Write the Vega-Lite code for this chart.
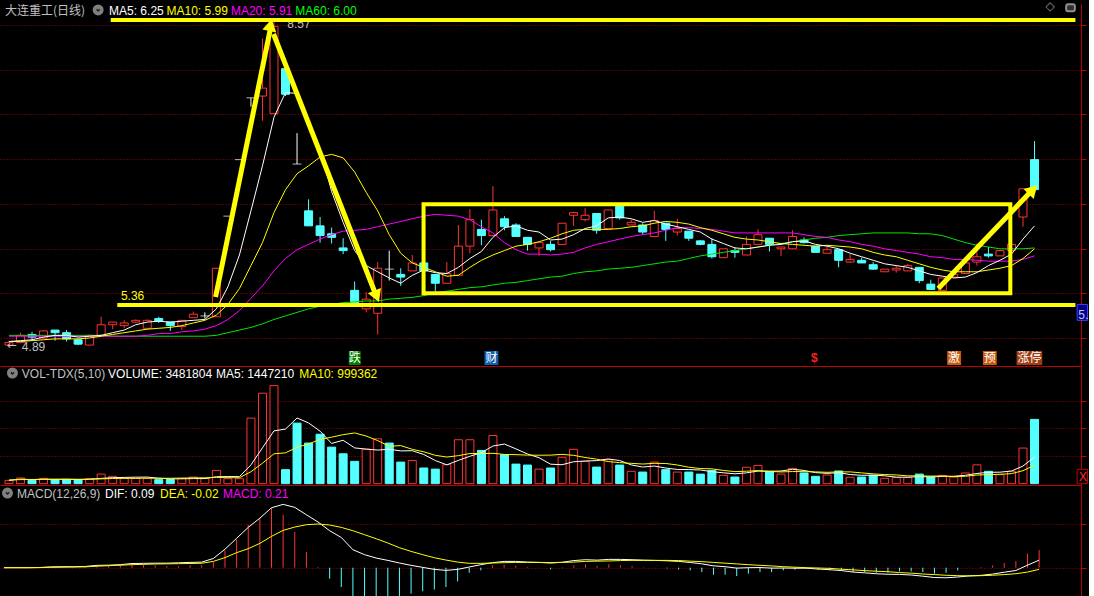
{
"$schema":"https://vega.github.io/schema/vega-lite/v6.json",
"background":"#000000",
"padding":0,
"spacing":0,
"config":{"view":{"stroke":null},"axisX":{"domainColor":"#c00000","ticks":false,"labels":false,"grid":false,"minExtent":0},"axisY":{"minExtent":0}},
"datasets":{"k":[
{"i":0,"o":4.9,"h":4.95,"l":4.89,"c":4.93,"up":true,"v":180000,"m5":4.94,"m10":4.94,"m20":5.0,"m60":5.01,"vm5":180000,"vm10":200000,"dif":0,"dea":0,"m":0.004},
{"i":1,"o":4.93,"h":5.04,"l":4.92,"c":5.01,"up":true,"v":310000,"m5":4.95,"m10":4.94,"m20":5.0,"m60":5.01,"vm5":250000,"vm10":220000,"dif":0,"dea":0,"m":0.004},
{"i":2,"o":5.02,"h":5.05,"l":4.95,"c":4.99,"up":false,"v":180000,"m5":4.96,"m10":4.95,"m20":5.0,"m60":5.01,"vm5":220000,"vm10":230000,"dif":0,"dea":0,"m":0.004},
{"i":3,"o":4.98,"h":5.07,"l":4.97,"c":5.06,"up":true,"v":290000,"m5":4.99,"m10":4.96,"m20":5.0,"m60":5.01,"vm5":240000,"vm10":240000,"dif":0.002,"dea":0.001,"m":0.004},
{"i":4,"o":5.07,"h":5.07,"l":4.95,"c":5.04,"up":false,"v":220000,"m5":5.01,"m10":4.97,"m20":5.0,"m60":5.01,"vm5":236000,"vm10":240000,"dif":0.01,"dea":0.004,"m":0.008},
{"i":5,"o":5.04,"h":5.07,"l":4.94,"c":4.97,"up":false,"v":220000,"m5":5.01,"m10":4.97,"m20":5.0,"m60":5.01,"vm5":244000,"vm10":240000,"dif":0.012,"dea":0.006,"m":0.008},
{"i":6,"o":4.96,"h":4.97,"l":4.9,"c":4.91,"up":false,"v":220000,"m5":4.99,"m10":4.97,"m20":5.0,"m60":5.01,"vm5":226000,"vm10":240000,"dif":0.012,"dea":0.008,"m":0.008},
{"i":7,"o":4.9,"h":5.02,"l":4.9,"c":5.01,"up":true,"v":270000,"m5":5.0,"m10":4.98,"m20":5.0,"m60":5.01,"vm5":244000,"vm10":240000,"dif":0.015,"dea":0.01,"m":0.012},
{"i":8,"o":5.01,"h":5.22,"l":5.01,"c":5.13,"up":true,"v":520000,"m5":5.01,"m10":5.0,"m20":5.0,"m60":5.01,"vm5":290000,"vm10":260000,"dif":0.028,"dea":0.018,"m":0.012},
{"i":9,"o":5.13,"h":5.16,"l":5.08,"c":5.16,"up":true,"v":400000,"m5":5.04,"m10":5.02,"m20":5.0,"m60":5.0,"vm5":326000,"vm10":281000,"dif":0.03,"dea":0.024,"m":0.028},
{"i":10,"o":5.12,"h":5.18,"l":5.09,"c":5.15,"up":true,"v":290000,"m5":5.07,"m10":5.04,"m20":5.0,"m60":5.0,"vm5":340000,"vm10":292000,"dif":0.036,"dea":0.03,"m":0.028},
{"i":11,"o":5.16,"h":5.19,"l":5.15,"c":5.18,"up":true,"v":290000,"m5":5.13,"m10":5.06,"m20":5.0,"m60":5.0,"vm5":354000,"vm10":290000,"dif":0.05,"dea":0.036,"m":0.04},
{"i":12,"o":5.09,"h":5.19,"l":5.08,"c":5.18,"up":true,"v":290000,"m5":5.16,"m10":5.08,"m20":5.01,"m60":5.0,"vm5":358000,"vm10":301000,"dif":0.052,"dea":0.04,"m":0.04},
{"i":13,"o":5.2,"h":5.22,"l":5.15,"c":5.17,"up":false,"v":220000,"m5":5.17,"m10":5.09,"m20":5.03,"m60":5.0,"vm5":298000,"vm10":294000,"dif":0.054,"dea":0.044,"m":0.028},
{"i":14,"o":5.16,"h":5.16,"l":5.06,"c":5.12,"up":false,"v":230000,"m5":5.16,"m10":5.1,"m20":5.03,"m60":5.0,"vm5":264000,"vm10":295000,"dif":0.054,"dea":0.046,"m":0.02},
{"i":15,"o":5.11,"h":5.18,"l":5.07,"c":5.18,"up":true,"v":290000,"m5":5.17,"m10":5.12,"m20":5.05,"m60":5.0,"vm5":264000,"vm10":302000,"dif":0.058,"dea":0.048,"m":0.02},
{"i":16,"o":5.21,"h":5.28,"l":5.21,"c":5.25,"up":true,"v":360000,"m5":5.18,"m10":5.15,"m20":5.06,"m60":5.0,"vm5":278000,"vm10":316000,"dif":0.063,"dea":0.05,"m":0.028},
{"i":17,"o":5.23,"h":5.27,"l":5.2,"c":5.23,"up":true,"v":290000,"m5":5.19,"m10":5.18,"m20":5.08,"m60":5.0,"vm5":278000,"vm10":318000,"dif":0.066,"dea":0.053,"m":0.028},
{"i":18,"o":5.22,"h":5.77,"l":5.22,"c":5.77,"up":true,"v":720000,"m5":5.31,"m10":5.24,"m20":5.12,"m60":5.01,"vm5":378000,"vm10":338000,"dif":0.11,"dea":0.075,"m":0.067},
{"i":19,"o":6.36,"h":6.36,"l":6.36,"c":6.36,"up":true,"v":270000,"m5":5.56,"m10":5.36,"m20":5.19,"m60":5.04,"vm5":386000,"vm10":325000,"dif":0.22,"dea":0.12,"m":0.206},
{"i":20,"o":7.0,"h":7.0,"l":7.0,"c":7.0,"up":true,"v":270000,"m5":5.92,"m10":5.54,"m20":5.29,"m60":5.07,"vm5":382000,"vm10":323000,"dif":0.35,"dea":0.179,"m":0.337},
{"i":21,"o":7.7,"h":7.7,"l":7.6,"c":7.7,"up":true,"v":3550000,"m5":6.42,"m10":5.8,"m20":5.43,"m60":5.1,"vm5":1020000,"vm10":649000,"dif":0.48,"dea":0.226,"m":0.512},
{"i":22,"o":7.72,"h":8.37,"l":7.44,"c":7.81,"up":true,"v":4900000,"m5":6.93,"m10":6.06,"m20":5.57,"m60":5.14,"vm5":1942000,"vm10":1110000,"dif":0.59,"dea":0.29,"m":0.591},
{"i":23,"o":7.52,"h":8.57,"l":7.52,"c":8.51,"up":true,"v":5310000,"m5":7.48,"m10":6.4,"m20":5.74,"m60":5.19,"vm5":2860000,"vm10":1619000,"dif":0.714,"dea":0.373,"m":0.71},
{"i":24,"o":8.03,"h":8.08,"l":7.72,"c":7.74,"up":false,"v":760000,"m5":7.76,"m10":6.66,"m20":5.88,"m60":5.23,"vm5":2958000,"vm10":1672000,"dif":0.754,"dea":0.444,"m":0.631},
{"i":25,"o":6.95,"h":7.3,"l":6.95,"c":6.95,"up":false,"v":3280000,"m5":7.75,"m10":6.84,"m20":5.98,"m60":5.27,"vm5":3560000,"vm10":1971000,"dif":0.718,"dea":0.484,"m":0.425},
{"i":26,"o":6.42,"h":6.55,"l":6.25,"c":6.25,"up":false,"v":2200000,"m5":7.45,"m10":6.93,"m20":6.04,"m60":5.31,"vm5":3290000,"vm10":2155000,"dif":0.63,"dea":0.512,"m":0.187},
{"i":27,"o":6.25,"h":6.35,"l":6.06,"c":6.14,"up":false,"v":2680000,"m5":7.12,"m10":7.03,"m20":6.1,"m60":5.34,"vm5":2846000,"vm10":2394000,"dif":0.544,"dea":0.52,"m":0.01},
{"i":28,"o":6.16,"h":6.23,"l":6.05,"c":6.12,"up":false,"v":1980000,"m5":6.64,"m10":7.06,"m20":6.15,"m60":5.36,"vm5":2180000,"vm10":2520000,"dif":0.44,"dea":0.508,"m":-0.131},
{"i":29,"o":6.0,"h":6.11,"l":5.93,"c":5.97,"up":false,"v":1620000,"m5":6.29,"m10":7.02,"m20":6.19,"m60":5.38,"vm5":2352000,"vm10":2655000,"dif":0.36,"dea":0.48,"m":-0.23},
{"i":30,"o":5.52,"h":5.62,"l":5.37,"c":5.37,"up":false,"v":1210000,"m5":5.97,"m10":6.86,"m20":6.2,"m60":5.39,"vm5":1938000,"vm10":2749000,"dif":0.214,"dea":0.44,"m":-0.45},
{"i":31,"o":5.31,"h":5.5,"l":5.27,"c":5.42,"up":true,"v":1870000,"m5":5.8,"m10":6.63,"m20":6.21,"m60":5.4,"vm5":1872000,"vm10":2581000,"dif":0.155,"dea":0.393,"m":-0.476},
{"i":32,"o":5.26,"h":5.84,"l":5.02,"c":5.77,"up":true,"v":2430000,"m5":5.73,"m10":6.42,"m20":6.24,"m60":5.4,"vm5":1822000,"vm10":2334000,"dif":0.115,"dea":0.345,"m":-0.46},
{"i":33,"o":5.76,"h":5.97,"l":5.63,"c":5.76,"up":false,"v":2200000,"m5":5.66,"m10":6.15,"m20":6.27,"m60":5.42,"vm5":1866000,"vm10":2023000,"dif":0.087,"dea":0.294,"m":-0.414},
{"i":34,"o":5.7,"h":5.77,"l":5.57,"c":5.67,"up":false,"v":1170000,"m5":5.6,"m10":5.94,"m20":6.3,"m60":5.43,"vm5":1776000,"vm10":2064000,"dif":0.056,"dea":0.238,"m":-0.364},
{"i":35,"o":5.74,"h":5.92,"l":5.74,"c":5.83,"up":true,"v":1260000,"m5":5.69,"m10":5.83,"m20":6.33,"m60":5.44,"vm5":1786000,"vm10":1862000,"dif":0.028,"dea":0.194,"m":-0.31},
{"i":36,"o":5.83,"h":5.84,"l":5.74,"c":5.74,"up":false,"v":850000,"m5":5.75,"m10":5.78,"m20":6.36,"m60":5.46,"vm5":1582000,"vm10":1727000,"dif":0.004,"dea":0.155,"m":-0.28},
{"i":37,"o":5.7,"h":5.7,"l":5.51,"c":5.6,"up":false,"v":790000,"m5":5.72,"m10":5.73,"m20":6.38,"m60":5.49,"vm5":1254000,"vm10":1538000,"dif":-0.02,"dea":0.119,"m":-0.26},
{"i":38,"o":5.6,"h":5.84,"l":5.6,"c":5.71,"up":true,"v":1030000,"m5":5.71,"m10":5.68,"m20":6.37,"m60":5.51,"vm5":1020000,"vm10":1443000,"dif":-0.032,"dea":0.091,"m":-0.23},
{"i":39,"o":5.69,"h":6.26,"l":5.69,"c":6.02,"up":true,"v":2380000,"m5":5.78,"m10":5.69,"m20":6.36,"m60":5.53,"vm5":1262000,"vm10":1519000,"dif":-0.02,"dea":0.067,"m":-0.163},
{"i":40,"o":6.02,"h":6.44,"l":5.94,"c":6.32,"up":true,"v":2380000,"m5":5.88,"m10":5.78,"m20":6.32,"m60":5.55,"vm5":1486000,"vm10":1636000,"dif":0.008,"dea":0.052,"m":-0.06},
{"i":41,"o":6.21,"h":6.32,"l":6.03,"c":6.14,"up":false,"v":1800000,"m5":5.96,"m10":5.86,"m20":6.24,"m60":5.56,"vm5":1676000,"vm10":1629000,"dif":0.036,"dea":0.052,"m":-0.032},
{"i":42,"o":6.14,"h":6.7,"l":6.14,"c":6.43,"up":true,"v":2610000,"m5":6.12,"m10":5.92,"m20":6.17,"m60":5.58,"vm5":2040000,"vm10":1647000,"dif":0.06,"dea":0.056,"m":0.028},
{"i":43,"o":6.33,"h":6.36,"l":6.2,"c":6.24,"up":false,"v":1570000,"m5":6.23,"m10":5.97,"m20":6.06,"m60":5.6,"vm5":2148000,"vm10":1584000,"dif":0.075,"dea":0.06,"m":0.036},
{"i":44,"o":6.26,"h":6.28,"l":6.13,"c":6.13,"up":false,"v":1060000,"m5":6.25,"m10":6.02,"m20":5.98,"m60":5.61,"vm5":1884000,"vm10":1573000,"dif":0.075,"dea":0.063,"m":0.024},
{"i":45,"o":6.12,"h":6.12,"l":5.97,"c":6.04,"up":false,"v":1010000,"m5":6.2,"m10":6.04,"m20":5.93,"m60":5.63,"vm5":1610000,"vm10":1548000,"dif":0.067,"dea":0.063,"m":0.01},
{"i":46,"o":6.0,"h":6.06,"l":5.91,"c":6.06,"up":true,"v":790000,"m5":6.18,"m10":6.07,"m20":5.93,"m60":5.65,"vm5":1408000,"vm10":1542000,"dif":0.063,"dea":0.063,"m":0.002},
{"i":47,"o":6.04,"h":6.08,"l":5.96,"c":5.98,"up":false,"v":850000,"m5":6.09,"m10":6.11,"m20":5.92,"m60":5.67,"vm5":1056000,"vm10":1548000,"dif":0.055,"dea":0.062,"m":-0.02},
{"i":48,"o":6.04,"h":6.28,"l":6.04,"c":6.28,"up":true,"v":1430000,"m5":6.1,"m10":6.16,"m20":5.93,"m60":5.68,"vm5":1028000,"vm10":1588000,"dif":0.065,"dea":0.063,"m":-0.005},
{"i":49,"o":6.37,"h":6.41,"l":6.25,"c":6.4,"up":true,"v":1860000,"m5":6.15,"m10":6.2,"m20":5.95,"m60":5.71,"vm5":1188000,"vm10":1536000,"dif":0.085,"dea":0.067,"m":0.028},
{"i":50,"o":6.32,"h":6.45,"l":6.3,"c":6.37,"up":true,"v":1210000,"m5":6.22,"m10":6.21,"m20":6.0,"m60":5.73,"vm5":1228000,"vm10":1419000,"dif":0.095,"dea":0.075,"m":0.04},
{"i":51,"o":6.39,"h":6.39,"l":6.16,"c":6.2,"up":false,"v":900000,"m5":6.25,"m10":6.21,"m20":6.04,"m60":5.74,"vm5":1250000,"vm10":1329000,"dif":0.09,"dea":0.078,"m":0.02},
{"i":52,"o":6.22,"h":6.43,"l":6.22,"c":6.43,"up":true,"v":1300000,"m5":6.34,"m10":6.21,"m20":6.07,"m60":5.76,"vm5":1340000,"vm10":1198000,"dif":0.099,"dea":0.08,"m":0.04},
{"i":53,"o":6.48,"h":6.48,"l":6.32,"c":6.34,"up":false,"v":1010000,"m5":6.35,"m10":6.22,"m20":6.1,"m60":5.77,"vm5":1256000,"vm10":1142000,"dif":0.099,"dea":0.085,"m":0.028},
{"i":54,"o":6.26,"h":6.32,"l":6.26,"c":6.29,"up":true,"v":670000,"m5":6.33,"m10":6.24,"m20":6.13,"m60":5.78,"vm5":1018000,"vm10":1103000,"dif":0.095,"dea":0.087,"m":0.02},
{"i":55,"o":6.26,"h":6.28,"l":6.15,"c":6.18,"up":false,"v":630000,"m5":6.29,"m10":6.25,"m20":6.15,"m60":5.8,"vm5":902000,"vm10":1065000,"dif":0.09,"dea":0.087,"m":0.005},
{"i":56,"o":6.13,"h":6.42,"l":6.13,"c":6.31,"up":true,"v":1170000,"m5":6.31,"m10":6.28,"m20":6.17,"m60":5.82,"vm5":956000,"vm10":1103000,"dif":0.087,"dea":0.087,"m":0.002},
{"i":57,"o":6.28,"h":6.28,"l":6.08,"c":6.21,"up":false,"v":760000,"m5":6.27,"m10":6.3,"m20":6.2,"m60":5.84,"vm5":848000,"vm10":1094000,"dif":0.082,"dea":0.087,"m":-0.008},
{"i":58,"o":6.18,"h":6.33,"l":6.14,"c":6.22,"up":true,"v":630000,"m5":6.24,"m10":6.29,"m20":6.23,"m60":5.85,"vm5":772000,"vm10":1014000,"dif":0.075,"dea":0.085,"m":-0.02},
{"i":59,"o":6.19,"h":6.19,"l":6.08,"c":6.11,"up":false,"v":630000,"m5":6.21,"m10":6.27,"m20":6.23,"m60":5.88,"vm5":764000,"vm10":891000,"dif":0.062,"dea":0.078,"m":-0.032},
{"i":60,"o":6.08,"h":6.09,"l":6.03,"c":6.04,"up":false,"v":520000,"m5":6.18,"m10":6.23,"m20":6.22,"m60":5.91,"vm5":742000,"vm10":822000,"dif":0.046,"dea":0.072,"m":-0.052},
{"i":61,"o":6.04,"h":6.11,"l":5.88,"c":5.9,"up":false,"v":720000,"m5":6.1,"m10":6.2,"m20":6.21,"m60":5.93,"vm5":652000,"vm10":804000,"dif":0.022,"dea":0.063,"m":-0.083},
{"i":62,"o":5.89,"h":5.99,"l":5.89,"c":5.99,"up":true,"v":450000,"m5":6.05,"m10":6.16,"m20":6.19,"m60":5.95,"vm5":590000,"vm10":719000,"dif":0.012,"dea":0.054,"m":-0.083},
{"i":63,"o":5.97,"h":6.01,"l":5.89,"c":5.95,"up":false,"v":360000,"m5":6.0,"m10":6.12,"m20":6.17,"m60":5.97,"vm5":536000,"vm10":654000,"dif":-0.005,"dea":0.045,"m":-0.1},
{"i":64,"o":5.92,"h":6.13,"l":5.92,"c":6.04,"up":true,"v":890000,"m5":5.99,"m10":6.1,"m20":6.17,"m60":5.99,"vm5":588000,"vm10":676000,"dif":0,"dea":0.036,"m":-0.071},
{"i":65,"o":6.04,"h":6.21,"l":6.04,"c":6.15,"up":true,"v":990000,"m5":6.01,"m10":6.09,"m20":6.17,"m60":6.01,"vm5":682000,"vm10":712000,"dif":0.002,"dea":0.028,"m":-0.052},
{"i":66,"o":6.11,"h":6.11,"l":5.96,"c":6.04,"up":false,"v":670000,"m5":6.03,"m10":6.07,"m20":6.17,"m60":6.03,"vm5":672000,"vm10":662000,"dif":-0.005,"dea":0.021,"m":-0.052},
{"i":67,"o":5.99,"h":6.01,"l":5.91,"c":6.01,"up":true,"v":520000,"m5":6.04,"m10":6.05,"m20":6.17,"m60":6.05,"vm5":686000,"vm10":638000,"dif":-0.004,"dea":0.012,"m":-0.032},
{"i":68,"o":5.99,"h":6.2,"l":5.99,"c":6.13,"up":true,"v":830000,"m5":6.07,"m10":6.04,"m20":6.17,"m60":6.07,"vm5":780000,"vm10":658000,"dif":-0.006,"dea":0.006,"m":-0.024},
{"i":69,"o":6.09,"h":6.12,"l":6.05,"c":6.06,"up":false,"v":580000,"m5":6.08,"m10":6.03,"m20":6.15,"m60":6.09,"vm5":718000,"vm10":653000,"dif":-0.006,"dea":0,"m":-0.012},
{"i":70,"o":6.02,"h":6.02,"l":5.95,"c":5.95,"up":false,"v":400000,"m5":6.04,"m10":6.02,"m20":6.13,"m60":6.11,"vm5":600000,"vm10":641000,"dif":-0.016,"dea":-0.004,"m":-0.024},
{"i":71,"o":5.94,"h":6.02,"l":5.94,"c":5.98,"up":true,"v":470000,"m5":6.02,"m10":6.03,"m20":6.12,"m60":6.12,"vm5":560000,"vm10":616000,"dif":-0.024,"dea":-0.008,"m":-0.032},
{"i":72,"o":5.98,"h":5.98,"l":5.78,"c":5.86,"up":false,"v":690000,"m5":5.99,"m10":6.02,"m20":6.09,"m60":6.14,"vm5":594000,"vm10":640000,"dif":-0.034,"dea":-0.018,"m":-0.032},
{"i":73,"o":5.84,"h":5.93,"l":5.83,"c":5.87,"up":true,"v":350000,"m5":5.94,"m10":6.01,"m20":6.07,"m60":6.15,"vm5":498000,"vm10":639000,"dif":-0.052,"dea":-0.026,"m":-0.052},
{"i":74,"o":5.86,"h":5.89,"l":5.83,"c":5.83,"up":false,"v":360000,"m5":5.9,"m10":5.99,"m20":6.04,"m60":6.16,"vm5":454000,"vm10":586000,"dif":-0.061,"dea":-0.035,"m":-0.052},
{"i":75,"o":5.81,"h":5.84,"l":5.75,"c":5.76,"up":false,"v":450000,"m5":5.86,"m10":5.95,"m20":6.02,"m60":6.17,"vm5":464000,"vm10":532000,"dif":-0.072,"dea":-0.042,"m":-0.06},
{"i":76,"o":5.73,"h":5.76,"l":5.73,"c":5.76,"up":true,"v":290000,"m5":5.82,"m10":5.92,"m20":5.99,"m60":6.17,"vm5":428000,"vm10":494000,"dif":-0.078,"dea":-0.048,"m":-0.06},
{"i":77,"o":5.75,"h":5.8,"l":5.72,"c":5.77,"up":true,"v":330000,"m5":5.8,"m10":5.9,"m20":5.97,"m60":6.17,"vm5":356000,"vm10":475000,"dif":-0.08,"dea":-0.058,"m":-0.044},
{"i":78,"o":5.74,"h":5.82,"l":5.74,"c":5.8,"up":true,"v":330000,"m5":5.78,"m10":5.86,"m20":5.95,"m60":6.17,"vm5":352000,"vm10":425000,"dif":-0.087,"dea":-0.065,"m":-0.044},
{"i":79,"o":5.78,"h":5.78,"l":5.6,"c":5.63,"up":false,"v":520000,"m5":5.74,"m10":5.82,"m20":5.93,"m60":6.16,"vm5":384000,"vm10":419000,"dif":-0.101,"dea":-0.075,"m":-0.052},
{"i":80,"o":5.59,"h":5.64,"l":5.53,"c":5.53,"up":false,"v":360000,"m5":5.7,"m10":5.78,"m20":5.9,"m60":6.16,"vm5":366000,"vm10":415000,"dif":-0.117,"dea":-0.082,"m":-0.071},
{"i":81,"o":5.52,"h":5.66,"l":5.52,"c":5.66,"up":true,"v":450000,"m5":5.68,"m10":5.75,"m20":5.89,"m60":6.14,"vm5":398000,"vm10":413000,"dif":-0.12,"dea":-0.09,"m":-0.06},
{"i":82,"o":5.67,"h":5.73,"l":5.67,"c":5.7,"up":true,"v":360000,"m5":5.66,"m10":5.73,"m20":5.87,"m60":6.1,"vm5":404000,"vm10":380000,"dif":-0.111,"dea":-0.095,"m":-0.032},
{"i":83,"o":5.71,"h":5.83,"l":5.71,"c":5.83,"up":true,"v":580000,"m5":5.67,"m10":5.73,"m20":5.87,"m60":6.06,"vm5":454000,"vm10":403000,"dif":-0.097,"dea":-0.098,"m":0.003},
{"i":84,"o":5.84,"h":6.05,"l":5.8,"c":5.9,"up":true,"v":1020000,"m5":5.72,"m10":5.73,"m20":5.86,"m60":6.03,"vm5":554000,"vm10":469000,"dif":-0.091,"dea":-0.095,"m":0.008},
{"i":85,"o":5.93,"h":6.01,"l":5.89,"c":5.91,"up":false,"v":670000,"m5":5.8,"m10":5.75,"m20":5.85,"m60":6.01,"vm5":616000,"vm10":491000,"dif":-0.076,"dea":-0.09,"m":0.028},
{"i":86,"o":5.91,"h":5.97,"l":5.91,"c":5.97,"up":true,"v":490000,"m5":5.86,"m10":5.77,"m20":5.85,"m60":5.99,"vm5":624000,"vm10":511000,"dif":-0.054,"dea":-0.082,"m":0.056},
{"i":87,"o":5.97,"h":6.04,"l":5.97,"c":6.04,"up":true,"v":670000,"m5":5.93,"m10":5.8,"m20":5.85,"m60":5.99,"vm5":686000,"vm10":545000,"dif":-0.033,"dea":-0.072,"m":0.079},
{"i":88,"o":6.35,"h":6.67,"l":6.24,"c":6.67,"up":true,"v":1930000,"m5":6.1,"m10":5.88,"m20":5.87,"m60":5.99,"vm5":956000,"vm10":705000,"dif":0.03,"dea":-0.052,"m":0.167},
{"i":89,"o":7.0,"h":7.21,"l":6.66,"c":6.66,"up":false,"v":3481804,"m5":6.25,"m10":5.99,"m20":5.91,"m60":6.0,"vm5":1447210,"vm10":999362,"dif":0.09,"dea":-0.02,"m":0.21}
]},
"vconcat":[
{"width":1081,"height":362,"data":{"name":"k"},"layer":[
{"mark":{"type":"rule","strokeWidth":1},"encoding":{
"x":{"field":"i","type":"quantitative","title":null,"scale":{"domain":[-0.344,92.6],"nice":false,"zero":false}},
"y":{"field":"l","type":"quantitative","title":null,"scale":{"domain":[4.66285,8.7625],"nice":false,"zero":false},"axis":{"orient":"right","values":[4.98,5.49,5.99,6.5,7.01,7.52,8.02,8.53],"grid":true,"gridColor":"#a00000","gridDash":[1,2],"domainColor":"#c00000","tickColor":"#c00000","tickSize":5,"labels":false,"title":null,"minExtent":0}},
"y2":{"field":"h"},
"color":{"condition":[{"test":"datum.c == datum.o","value":"#ffffff"},{"test":"datum.c > datum.o","value":"#ff3232"}],"value":"#54ffff"}}},
{"transform":[{"filter":"datum.c != datum.o"}],"mark":{"type":"bar","width":8,"strokeWidth":1},"encoding":{
"x":{"field":"i","type":"quantitative","title":null,"scale":{"domain":[-0.344,92.6],"nice":false,"zero":false}},
"y":{"field":"o","type":"quantitative","title":null,"scale":{"domain":[4.66285,8.7625],"nice":false,"zero":false}},
"y2":{"field":"c"},
"fill":{"condition":{"test":"datum.c > datum.o","value":"#000000"},"value":"#54ffff"},
"stroke":{"condition":{"test":"datum.c > datum.o","value":"#ff3232"},"value":"#54ffff"}}},
{"transform":[{"filter":"datum.c == datum.o"}],"mark":{"type":"tick","orient":"horizontal","size":9,"thickness":1,"color":"#ffffff"},"encoding":{
"x":{"field":"i","type":"quantitative","title":null,"scale":{"domain":[-0.344,92.6],"nice":false,"zero":false}},
"y":{"field":"c","type":"quantitative","title":null,"scale":{"domain":[4.66285,8.7625],"nice":false,"zero":false}}}},
{"mark":{"type":"line","color":"#00e600","strokeWidth":1},"encoding":{
"x":{"field":"i","type":"quantitative","title":null,"scale":{"domain":[-0.344,92.6],"nice":false,"zero":false}},
"y":{"field":"m60","type":"quantitative","title":null,"scale":{"domain":[4.66285,8.7625],"nice":false,"zero":false}}}},
{"mark":{"type":"line","color":"#ff00ff","strokeWidth":1},"encoding":{
"x":{"field":"i","type":"quantitative","title":null,"scale":{"domain":[-0.344,92.6],"nice":false,"zero":false}},
"y":{"field":"m20","type":"quantitative","title":null,"scale":{"domain":[4.66285,8.7625],"nice":false,"zero":false}}}},
{"mark":{"type":"line","color":"#ffff00","strokeWidth":1},"encoding":{
"x":{"field":"i","type":"quantitative","title":null,"scale":{"domain":[-0.344,92.6],"nice":false,"zero":false}},
"y":{"field":"m10","type":"quantitative","title":null,"scale":{"domain":[4.66285,8.7625],"nice":false,"zero":false}}}},
{"mark":{"type":"line","color":"#ffffff","strokeWidth":1},"encoding":{
"x":{"field":"i","type":"quantitative","title":null,"scale":{"domain":[-0.344,92.6],"nice":false,"zero":false}},
"y":{"field":"m5","type":"quantitative","title":null,"scale":{"domain":[4.66285,8.7625],"nice":false,"zero":false}}}},
{"data":{"values":[{}]},"mark":{"type":"text","text":"8.57","color":"#c0c0c0","font":"Liberation Sans","fontSize":12,"align":"left","baseline":"alphabetic"},"encoding":{"x":{"datum":24.16},"y":{"datum":8.4907}}},
{"data":{"values":[{}]},"mark":{"type":"rule","color":"#ffff00","strokeWidth":4},"encoding":{"x":{"datum":8.83},"x2":{"datum":92.55},"y":{"datum":8.58}}},
{"data":{"values":[{}]},"mark":{"type":"rule","color":"#ffff00","strokeWidth":4},"encoding":{"x":{"datum":9.4},"x2":{"datum":92.55},"y":{"datum":5.354}}},
{"data":{"values":[{}]},"mark":{"type":"rect","fill":null,"fillOpacity":0,"stroke":"#ffff00","strokeWidth":4},"encoding":{"x":{"datum":35.98},"x2":{"datum":86.9},"y":{"datum":5.486},"y2":{"datum":6.494}}},
{"data":{"values":[{}]},"mark":{"type":"rule","color":"#ffff00","strokeWidth":5},"encoding":{"x":{"datum":17.93},"y":{"datum":5.444},"x2":{"datum":22.7},"y2":{"datum":8.49}}},
{"data":{"values":[{}]},"mark":{"type":"rule","color":"#ffff00","strokeWidth":5},"encoding":{"x":{"datum":22.96},"y":{"datum":8.423},"x2":{"datum":31.81},"y2":{"datum":5.478}}},
{"data":{"values":[{}]},"mark":{"type":"rule","color":"#ffff00","strokeWidth":5},"encoding":{"x":{"datum":80.65},"y":{"datum":5.541},"x2":{"datum":88.73},"y2":{"datum":6.645}}},
{"data":{"values":[{}]},"mark":{"type":"point","shape":"triangle-up","filled":true,"color":"#ffff00","opacity":1,"size":200,"angle":11.6},"encoding":{"x":{"datum":22.7},"y":{"datum":8.525}}},
{"data":{"values":[{}]},"mark":{"type":"point","shape":"triangle-up","filled":true,"color":"#ffff00","opacity":1,"size":200,"angle":158.2},"encoding":{"x":{"datum":31.91},"y":{"datum":5.451}}},
{"data":{"values":[{}]},"mark":{"type":"point","shape":"triangle-up","filled":true,"color":"#ffff00","opacity":1,"size":200,"angle":44.1},"encoding":{"x":{"datum":88.86},"y":{"datum":6.661}}},
{"data":{"values":[{}]},"mark":{"type":"text","text":"大连重工(日线)","color":"#c0c0c0","font":"Noto Sans CJK SC","fontSize":12,"align":"left","baseline":"alphabetic"},"encoding":{"x":{"datum":-0.344},"y":{"datum":8.6434}}},
{"data":{"values":[{}]},"mark":{"type":"point","shape":"circle","filled":true,"color":"#808080","opacity":1,"size":121},"encoding":{"x":{"datum":7.74},"y":{"datum":8.695}}},
{"data":{"values":[{}]},"mark":{"type":"point","shape":"M-0.5,-0.2L0,0.3L0.5,-0.2","filled":false,"stroke":"#202020","strokeWidth":1.5,"opacity":1,"size":40},"encoding":{"x":{"datum":7.74},"y":{"datum":8.695}}},
{"data":{"values":[{}]},"mark":{"type":"text","text":"MA5: 6.25","color":"#ffffff","font":"Liberation Sans","fontSize":12,"align":"left","baseline":"alphabetic"},"encoding":{"x":{"datum":8.684},"y":{"datum":8.6434}}},
{"data":{"values":[{}]},"mark":{"type":"text","text":"MA10: 5.99","color":"#ffff00","font":"Liberation Sans","fontSize":12,"align":"left","baseline":"alphabetic"},"encoding":{"x":{"datum":13.67},"y":{"datum":8.6434}}},
{"data":{"values":[{}]},"mark":{"type":"text","text":"MA20: 5.91","color":"#ff00ff","font":"Liberation Sans","fontSize":12,"align":"left","baseline":"alphabetic"},"encoding":{"x":{"datum":19.26},"y":{"datum":8.6434}}},
{"data":{"values":[{}]},"mark":{"type":"text","text":"MA60: 6.00","color":"#00ff00","font":"Liberation Sans","fontSize":12,"align":"left","baseline":"alphabetic"},"encoding":{"x":{"datum":24.85},"y":{"datum":8.6434}}},
{"data":{"values":[{}]},"mark":{"type":"text","text":"5.36","color":"#ffff00","font":"Liberation Sans","fontSize":12,"align":"left","baseline":"alphabetic"},"encoding":{"x":{"datum":9.715},"y":{"datum":5.41}}},
{"data":{"values":[{}]},"mark":{"type":"text","text":"←","color":"#c0c0c0","font":"DejaVu Sans","fontSize":12,"align":"left","baseline":"alphabetic"},"encoding":{"x":{"datum":-0.17},"y":{"datum":4.85}}},
{"data":{"values":[{}]},"mark":{"type":"text","text":"4.89","color":"#c0c0c0","font":"Liberation Sans","fontSize":12,"align":"left","baseline":"alphabetic"},"encoding":{"x":{"datum":1.12},"y":{"datum":4.83}}},
{"data":{"values":[{}]},"mark":{"type":"rect","color":"#008000"},"encoding":{"x":{"datum":29.49},"x2":{"datum":30.52},"y":{"datum":4.6742},"y2":{"datum":4.8328}}},
{"data":{"values":[{}]},"mark":{"type":"text","text":"跌","color":"#ffffff","font":"Noto Sans CJK SC","fontSize":12,"align":"center","baseline":"middle"},"encoding":{"x":{"datum":30.0},"y":{"datum":4.7536}}},
{"data":{"values":[{}]},"mark":{"type":"rect","color":"#1060b0"},"encoding":{"x":{"datum":41.27},"x2":{"datum":42.47},"y":{"datum":4.6742},"y2":{"datum":4.8328}}},
{"data":{"values":[{}]},"mark":{"type":"text","text":"财","color":"#ffffff","font":"Noto Sans CJK SC","fontSize":12,"align":"center","baseline":"middle"},"encoding":{"x":{"datum":41.87},"y":{"datum":4.7536}}},
{"data":{"values":[{}]},"mark":{"type":"text","text":"$","color":"#ff2020","font":"Liberation Sans","fontSize":12,"fontWeight":"bold","align":"center","baseline":"middle"},"encoding":{"x":{"datum":69.9},"y":{"datum":4.7536}}},
{"data":{"values":[{}]},"mark":{"type":"rect","color":"#c85a10"},"encoding":{"x":{"datum":81.42},"x2":{"datum":82.63},"y":{"datum":4.6742},"y2":{"datum":4.8328}}},
{"data":{"values":[{}]},"mark":{"type":"text","text":"激","color":"#ffffff","font":"Noto Sans CJK SC","fontSize":12,"align":"center","baseline":"middle"},"encoding":{"x":{"datum":82.02},"y":{"datum":4.7536}}},
{"data":{"values":[{}]},"mark":{"type":"rect","color":"#c85a10"},"encoding":{"x":{"datum":84.52},"x2":{"datum":85.72},"y":{"datum":4.6742},"y2":{"datum":4.8328}}},
{"data":{"values":[{}]},"mark":{"type":"text","text":"预","color":"#ffffff","font":"Noto Sans CJK SC","fontSize":12,"align":"center","baseline":"middle"},"encoding":{"x":{"datum":85.12},"y":{"datum":4.7536}}},
{"data":{"values":[{}]},"mark":{"type":"rect","color":"#a03c10"},"encoding":{"x":{"datum":87.44},"x2":{"datum":89.67},"y":{"datum":4.6742},"y2":{"datum":4.8328}}},
{"data":{"values":[{}]},"mark":{"type":"text","text":"涨停","color":"#ffffff","font":"Noto Sans CJK SC","fontSize":12,"align":"center","baseline":"middle"},"encoding":{"x":{"datum":88.56},"y":{"datum":4.7536}}},
{"data":{"values":[{}]},"mark":{"type":"text","text":"◇","color":"#909090","font":"DejaVu Sans","fontSize":12,"align":"center","baseline":"alphabetic"},"encoding":{"x":{"datum":90.36},"y":{"datum":8.69}}},
{"data":{"values":[{}]},"mark":{"type":"rect","fill":"#303030","stroke":"#909090","strokeWidth":2,"cornerRadius":2},"encoding":{"x":{"datum":91.75},"x2":{"datum":92.5},"y":{"datum":8.68},"y2":{"datum":8.76}}},
{"data":{"values":[{}]},"mark":{"type":"rect","fill":"#000080","stroke":"#4040ff","strokeWidth":1},"encoding":{"x":{"datum":92.7},"x2":{"datum":93.6},"y":{"datum":5.18},"y2":{"datum":5.36}}},
{"data":{"values":[{}]},"mark":{"type":"text","text":"5.","color":"#c0c0ff","font":"Liberation Sans","fontSize":12,"align":"left","baseline":"alphabetic"},"encoding":{"x":{"datum":92.8},"y":{"datum":5.2}}}
]},
{"width":1081,"height":119,"data":{"name":"k"},"layer":[
{"mark":{"type":"bar","width":8,"strokeWidth":1},"encoding":{
"x":{"field":"i","type":"quantitative","title":null,"scale":{"domain":[-0.344,92.6],"nice":false,"zero":false}},
"y":{"field":"v","type":"quantitative","title":null,"scale":{"domain":[-70395,6373455],"nice":false,"zero":false},"axis":{"orient":"right","values":[1500000,3000000,4500000],"grid":true,"gridColor":"#a00000","gridDash":[1,2],"domainColor":"#c00000","tickColor":"#c00000","tickSize":5,"labels":false,"title":null,"minExtent":0}},
"y2":{"datum":0},
"fill":{"condition":{"test":"datum.up","value":"#000000"},"value":"#54ffff"},
"stroke":{"condition":{"test":"datum.up","value":"#ff3232"},"value":"#54ffff"}}},
{"mark":{"type":"line","color":"#ffffff","strokeWidth":1},"encoding":{
"x":{"field":"i","type":"quantitative","title":null,"scale":{"domain":[-0.344,92.6],"nice":false,"zero":false}},
"y":{"field":"vm5","type":"quantitative","title":null,"scale":{"domain":[-70395,6373455],"nice":false,"zero":false}}}},
{"mark":{"type":"line","color":"#ffff00","strokeWidth":1},"encoding":{
"x":{"field":"i","type":"quantitative","title":null,"scale":{"domain":[-0.344,92.6],"nice":false,"zero":false}},
"y":{"field":"vm10","type":"quantitative","title":null,"scale":{"domain":[-70395,6373455],"nice":false,"zero":false}}}},
{"data":{"values":[{}]},"mark":{"type":"point","shape":"circle","filled":true,"color":"#808080","opacity":1,"size":121},"encoding":{"x":{"datum":0.3},"y":{"datum":5994405}}},
{"data":{"values":[{}]},"mark":{"type":"point","shape":"M-0.5,-0.2L0,0.3L0.5,-0.2","filled":false,"stroke":"#202020","strokeWidth":1.5,"opacity":1,"size":40},"encoding":{"x":{"datum":0.3},"y":{"datum":5994405}}},
{"data":{"values":[{}]},"mark":{"type":"text","text":"VOL-TDX(5,10)","color":"#c0c0c0","font":"Liberation Sans","fontSize":12,"align":"left","baseline":"alphabetic"},"encoding":{"x":{"datum":1.118},"y":{"datum":5723655}}},
{"data":{"values":[{}]},"mark":{"type":"text","text":"VOLUME: 3481804","color":"#ffffff","font":"Liberation Sans","fontSize":12,"align":"left","baseline":"alphabetic"},"encoding":{"x":{"datum":8.598},"y":{"datum":5723655}}},
{"data":{"values":[{}]},"mark":{"type":"text","text":"MA5: 1447210","color":"#ffffff","font":"Liberation Sans","fontSize":12,"align":"left","baseline":"alphabetic"},"encoding":{"x":{"datum":17.969},"y":{"datum":5723655}}},
{"data":{"values":[{}]},"mark":{"type":"text","text":"MA10: 999362","color":"#ffff00","font":"Liberation Sans","fontSize":12,"align":"left","baseline":"alphabetic"},"encoding":{"x":{"datum":25.19},"y":{"datum":5723655}}},
{"data":{"values":[{}]},"mark":{"type":"rect","fill":"#000000","stroke":"#c00000","strokeWidth":1},"encoding":{"x":{"datum":92.7},"x2":{"datum":93.6},"y":{"datum":0},"y2":{"datum":780000}}},
{"data":{"values":[{}]},"mark":{"type":"text","text":"X","color":"#ff3232","font":"Liberation Sans","fontSize":12,"align":"left","baseline":"alphabetic"},"encoding":{"x":{"datum":92.85},"y":{"datum":140000}}}
]},
{"width":1081,"height":113,"data":{"name":"k"},"layer":[
{"mark":{"type":"rule","strokeWidth":1,"clip":true},"encoding":{
"x":{"field":"i","type":"quantitative","title":null,"axis":null,"scale":{"domain":[-0.344,92.6],"nice":false,"zero":false}},
"y":{"field":"m","type":"quantitative","title":null,"scale":{"domain":[-0.36071,0.98452],"nice":false,"zero":false},"axis":{"orient":"right","values":[0,0.52],"grid":true,"gridColor":"#a00000","gridDash":[1,2],"domainColor":"#c00000","tickColor":"#c00000","tickSize":5,"labels":false,"title":null,"minExtent":0}},
"y2":{"datum":0},
"color":{"condition":{"test":"datum.m >= 0","value":"#ff3232"},"value":"#54ffff"}}},
{"mark":{"type":"line","color":"#ffffff","strokeWidth":1},"encoding":{
"x":{"field":"i","type":"quantitative","title":null,"axis":null,"scale":{"domain":[-0.344,92.6],"nice":false,"zero":false}},
"y":{"field":"dif","type":"quantitative","title":null,"scale":{"domain":[-0.36071,0.98452],"nice":false,"zero":false}}}},
{"mark":{"type":"line","color":"#ffff00","strokeWidth":1},"encoding":{
"x":{"field":"i","type":"quantitative","title":null,"axis":null,"scale":{"domain":[-0.344,92.6],"nice":false,"zero":false}},
"y":{"field":"dea","type":"quantitative","title":null,"scale":{"domain":[-0.36071,0.98452],"nice":false,"zero":false}}}},
{"data":{"values":[{}]},"mark":{"type":"point","shape":"circle","filled":true,"color":"#808080","opacity":1,"size":121},"encoding":{"x":{"datum":0.3,"axis":null},"y":{"datum":0.889}}},
{"data":{"values":[{}]},"mark":{"type":"point","shape":"M-0.5,-0.2L0,0.3L0.5,-0.2","filled":false,"stroke":"#202020","strokeWidth":1.5,"opacity":1,"size":40},"encoding":{"x":{"datum":0.3,"axis":null},"y":{"datum":0.889}}},
{"data":{"values":[{}]},"mark":{"type":"text","text":"MACD(12,26,9)","color":"#c0c0c0","font":"Liberation Sans","fontSize":12,"align":"left","baseline":"alphabetic"},"encoding":{"x":{"datum":1.118,"axis":null},"y":{"datum":0.8357}}},
{"data":{"values":[{}]},"mark":{"type":"text","text":"DIF: 0.09","color":"#ffffff","font":"Liberation Sans","fontSize":12,"align":"left","baseline":"alphabetic"},"encoding":{"x":{"datum":8.684,"axis":null},"y":{"datum":0.8357}}},
{"data":{"values":[{}]},"mark":{"type":"text","text":"DEA: -0.02","color":"#ffff00","font":"Liberation Sans","fontSize":12,"align":"left","baseline":"alphabetic"},"encoding":{"x":{"datum":13.412,"axis":null},"y":{"datum":0.8357}}},
{"data":{"values":[{}]},"mark":{"type":"text","text":"MACD: 0.21","color":"#ff00ff","font":"Liberation Sans","fontSize":12,"align":"left","baseline":"alphabetic"},"encoding":{"x":{"datum":18.829,"axis":null},"y":{"datum":0.8357}}}
]}
]
}
